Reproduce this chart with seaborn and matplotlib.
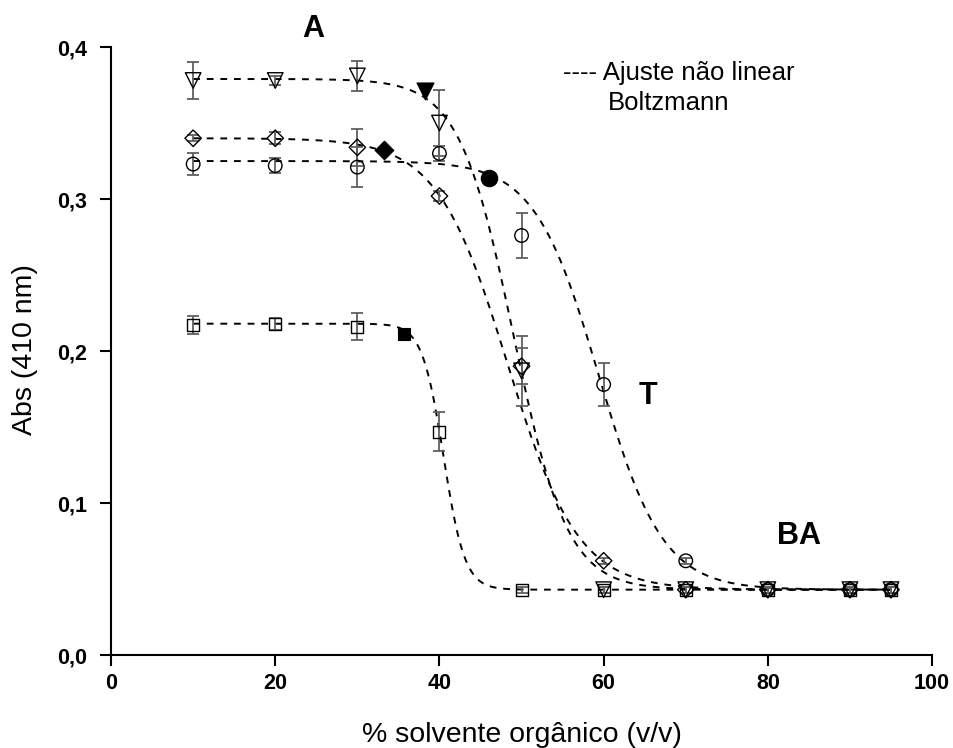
import numpy as np
import pandas as pd
import matplotlib
matplotlib.use("Agg")
import matplotlib.pyplot as plt
import seaborn as sns

# % organic solvent
solvent = [10, 20, 30, 40, 50, 60, 70, 80, 90, 95]

# absorbance at 410 nm, one list per series
abs_tri = [0.378, 0.378, 0.381, 0.350, 0.187, 0.043, 0.043, 0.043, 0.043, 0.043]
err_tri = [0.012, 0.003, 0.010, 0.022, 0.023, 0.002, 0.002, 0.002, 0.002, 0.002]
abs_dia = [0.340, 0.340, 0.334, 0.302, 0.190, 0.062, 0.043, 0.043, 0.043, 0.043]
err_dia = [0.002, 0.004, 0.012, 0.003, 0.012, 0.002, 0.002, 0.002, 0.002, 0.002]
abs_cir = [0.323, 0.322, 0.321, 0.330, 0.276, 0.178, 0.062, 0.043, 0.043, 0.043]
err_cir = [0.007, 0.005, 0.013, 0.005, 0.015, 0.014, 0.002, 0.002, 0.002, 0.002]
abs_sq = [0.217, 0.218, 0.216, 0.147, 0.043, 0.043, 0.043, 0.043, 0.043, 0.043]
err_sq = [0.006, 0.004, 0.009, 0.013, 0.002, 0.002, 0.002, 0.002, 0.002, 0.002]

# filled markers (transition points)
fill_x = [38.3, 33.2, 46.0, 35.7]
fill_y = [0.371, 0.332, 0.314, 0.211]

# Boltzmann fit parameters: A1, A2, x0, dx
fit_tri = [0.379, 0.043, 49.0, 3.3]
fit_dia = [0.340, 0.043, 48.3, 4.3]
fit_cir = [0.325, 0.043, 59.4, 3.9]
fit_sq = [0.218, 0.043, 40.5, 1.3]

sns.set_style("ticks")
plt.rcParams['font.family'] = ['Liberation Sans', 'DejaVu Sans']
for key in ['text.color', 'axes.labelcolor', 'xtick.color', 'ytick.color', 'axes.edgecolor']:
    plt.rcParams[key] = 'black'

fig = plt.figure(figsize=(9.54, 7.48), dpi=100)
ax = fig.add_axes([0.1164, 0.1243, 0.8606, 0.8128])


def boltzmann(x, p):
    return p[1] + (p[0] - p[1]) / (1 + np.exp((x - p[2]) / p[3]))


xs = np.linspace(10, 95, 400)
for p in [fit_tri, fit_dia, fit_cir, fit_sq]:
    sns.lineplot(x=xs, y=boltzmann(xs, p), ax=ax, color='black', lw=1.4,
                 linestyle=(0, (3.5, 3.5)), zorder=2)

series = [
    (abs_tri, err_tri, 'v', 125),
    (abs_dia, err_dia, 'D', 70),
    (abs_cir, err_cir, 'o', 95),
    (abs_sq, err_sq, 's', 75),
]
for y, e, m, s in series:
    ax.errorbar(solvent, y, yerr=e, fmt='none', ecolor='#606060', elinewidth=1.3,
                capsize=4.5, capthick=1.3, zorder=3)
    sns.scatterplot(x=solvent, y=y, ax=ax, marker=m, s=s, color='black',
                    facecolor='none', edgecolor='black', linewidth=1.0, zorder=4)

for xf, yf, m, s in zip(fill_x, fill_y, ['v', 'D', 'o', 's'], [150, 90, 140, 85]):
    sns.scatterplot(x=[xf], y=[yf], ax=ax, marker=m, s=s, color='black',
                    edgecolor='black', linewidth=0.8, zorder=5)

ax.set_xlim(0, 100)
ax.set_ylim(0, 0.4)
ax.set_xticks([0, 20, 40, 60, 80, 100])
ax.set_yticks([0.0, 0.1, 0.2, 0.3, 0.4])
ax.set_yticklabels(['0,0', '0,1', '0,2', '0,3', '0,4'])
ax.tick_params(axis='both', labelsize=15.5, width=1.5, length=8, direction='out')
ax.tick_params(axis='x', pad=5)
ax.tick_params(axis='y', pad=9)
for lbl in ax.get_xticklabels() + ax.get_yticklabels():
    lbl.set_fontweight('bold')
for side in ['left', 'bottom']:
    ax.spines[side].set_linewidth(1.5)
sns.despine(ax=ax)

ax.set_xlabel('')
ax.set_ylabel('')
fig.text(522 / 954, 1 - 742 / 748, '% solvente orgânico (v/v)', fontsize=20.5,
         ha='center', va='baseline')
fig.text(25 / 954, 1 - 350 / 748, 'Abs (410 nm)', fontsize=20.5, rotation=90,
         ha='center', va='center')

ax.text(24.6, 0.4118, 'A', fontsize=22, fontweight='bold', ha='center', va='center')
ax.text(65.4, 0.1704, 'T', fontsize=22, fontweight='bold', ha='center', va='center')
ax.text(83.8, 0.0783, 'BA', fontsize=22, fontweight='bold', ha='center', va='center')
ax.text(55.1, 0.383, '---- Ajuste não linear', fontsize=18.5, ha='left', va='center')
ax.text(60.5, 0.363, 'Boltzmann', fontsize=18.5, ha='left', va='center')

fig.savefig('out.png', dpi=100)
